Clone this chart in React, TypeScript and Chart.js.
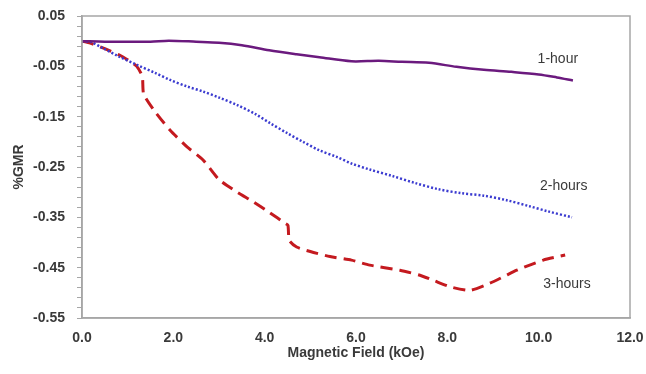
import React, { useEffect, useRef } from "react";
import { Chart, registerables } from "chart.js";

Chart.register(...registerables);

const oneHourX = [0, 0.5, 1.0, 1.5, 1.9, 2.5, 3.0, 3.5, 4.1, 4.7, 5.2, 5.9, 6.5, 7.0, 7.6, 8.2, 8.8, 9.4, 10.0, 10.4, 10.75];
const oneHourY = [0, -0.001, -0.001, -0.001, 0.001, -0.001, -0.003, -0.008, -0.018, -0.026, -0.032, -0.04, -0.039, -0.041, -0.043, -0.051, -0.057, -0.061, -0.066, -0.072, -0.078];

const twoHoursX = [0, 0.2, 0.46, 0.8, 1.2, 1.6, 1.93, 2.3, 2.65, 3.0, 3.4, 3.8, 4.12, 4.5, 4.84, 5.2, 5.58, 5.9, 6.3, 6.8, 7.3, 7.8, 8.3, 8.8, 9.3, 9.8, 10.2, 10.73];
const twoHoursY = [0, -0.002, -0.014, -0.03, -0.047, -0.063, -0.077, -0.09, -0.1, -0.112, -0.127, -0.145, -0.163, -0.183, -0.2, -0.217, -0.23, -0.243, -0.255, -0.268, -0.282, -0.294, -0.302, -0.307, -0.316, -0.328, -0.338, -0.35];

const threeHoursX = [0, 0.18, 0.5, 0.83, 1.05, 1.2, 1.32, 1.35, 1.6, 1.93, 2.3, 2.65, 3.0, 3.4, 3.75, 4.1, 4.45, 4.51, 4.54, 4.7, 5.0, 5.43, 5.9, 6.3, 6.96, 7.4, 7.69, 8.06, 8.5, 8.93, 9.25, 9.52, 10.1, 10.58];
const threeHoursY = [0, -0.004, -0.015, -0.028, -0.04, -0.05, -0.07, -0.105, -0.14, -0.177, -0.21, -0.236, -0.275, -0.3, -0.319, -0.34, -0.362, -0.366, -0.396, -0.409, -0.418, -0.428, -0.435, -0.445, -0.455, -0.465, -0.475, -0.488, -0.495, -0.481, -0.467, -0.455, -0.435, -0.425];

const seriesLabels = ["1-hour", "2-hours", "3-hours"];
const labelX = [10.42, 10.55, 10.62];
const labelY = [-0.0355, -0.288, -0.483];

const xTitle = "Magnetic Field (kOe)";
const yTitle = "%GMR";
const yMin = -0.55;
const yMax = 0.05;
const xMin = 0;
const xMax = 12;

const FONT = "'Liberation Sans', Arial, sans-serif";

function pts(xs: number[], ys: number[]) {
  return xs.map((x, i) => ({ x, y: ys[i] }));
}

export default function App() {
  const ref = useRef<HTMLCanvasElement | null>(null);
  useEffect(() => {
    if (!ref.current) return;
    const boxPlugin = {
      id: "boxPlugin",
      afterDatasetsDraw(chart: any) {
        const { ctx, chartArea, scales } = chart;
        ctx.save();
        ctx.strokeStyle = "#a6a6a6";
        ctx.lineWidth = 1.5;
        ctx.strokeRect(chartArea.left, chartArea.top, chartArea.right - chartArea.left, chartArea.bottom - chartArea.top);
        ctx.fillStyle = "#3a3a3a";
        ctx.font = `14px ${FONT}`;
        ctx.textAlign = "center";
        ctx.textBaseline = "middle";
        seriesLabels.forEach((t, i) => {
          ctx.fillText(t, scales.x.getPixelForValue(labelX[i]), scales.y.getPixelForValue(labelY[i]));
        });
        ctx.restore();
      },
    };
    const chart = new Chart(ref.current, {
      type: "line",
      data: {
        datasets: [
          {
            label: seriesLabels[0],
            data: pts(oneHourX, oneHourY),
            borderColor: "#6b1a7e",
            borderWidth: 2.5,
            pointRadius: 0,
            tension: 0.3,
          },
          {
            label: seriesLabels[1],
            data: pts(twoHoursX, twoHoursY),
            borderColor: "#3b3bd0",
            borderWidth: 2.5,
            borderDash: [2, 2],
            pointRadius: 0,
            tension: 0.3,
          },
          {
            label: seriesLabels[2],
            data: pts(threeHoursX, threeHoursY),
            borderColor: "#c41a1f",
            borderWidth: 3,
            borderDash: [12, 7],
            pointRadius: 0,
            tension: 0.2,
          },
        ],
      },
      options: {
        animation: false,
        responsive: false,
        layout: { padding: { left: 0, right: 16, top: 16, bottom: 0 } },
        plugins: { legend: { display: false }, tooltip: { enabled: false } },
        scales: {
          x: {
            type: "linear",
            min: xMin,
            max: xMax,
            grid: { display: false, drawTicks: false },
            border: { display: true, color: "#a6a6a6", width: 1.5 },
            ticks: {
              stepSize: 2,
              padding: 12,
              color: "#3a3a3a",
              font: { family: FONT, size: 14, weight: "bold" },
              callback: (v: any) => Number(v).toFixed(1),
            },
            title: {
              display: true,
              text: xTitle,
              color: "#3a3a3a",
              font: { family: FONT, size: 14, weight: "bold" },
              padding: { top: 0, bottom: 12 },
            },
            afterFit: (s: any) => {
              s.height = 56;
              s.paddingLeft = 0;
              s.paddingRight = 0;
            },
          },
          y: {
            type: "linear",
            min: yMin,
            max: yMax,
            afterBuildTicks: (s: any) => {
              const t = [];
              for (let i = 0; i <= 30; i++) t.push({ value: +(yMax - 0.02 * i).toFixed(3) });
              s.ticks = t;
            },
            grid: { drawOnChartArea: false, drawTicks: true, tickLength: 5, color: "#a6a6a6" },
            border: { display: true, color: "#a6a6a6", width: 1.5 },
            ticks: {
              autoSkip: false,
              padding: 12,
              color: "#3a3a3a",
              font: { family: FONT, size: 14, weight: "bold" },
              callback: (v: any, i: number) => (i % 5 === 0 ? Number(v).toFixed(2) : ""),
            },
            title: {
              display: true,
              text: yTitle,
              color: "#3a3a3a",
              font: { family: FONT, size: 14, weight: "bold" },
              padding: { top: 11, bottom: 0 },
            },
            afterFit: (s: any) => {
              s.width = 82;
              s.paddingTop = 0;
              s.paddingBottom = 0;
            },
          },
        },
      },
      plugins: [boxPlugin],
    } as any);
    return () => chart.destroy();
  }, []);
  return (
    <div style={{ position: "fixed", left: 0, top: 0, width: 646, height: 374, background: "#fff" }}>
      <canvas ref={ref} width={646} height={374} style={{ display: "block" }} />
    </div>
  );
}
